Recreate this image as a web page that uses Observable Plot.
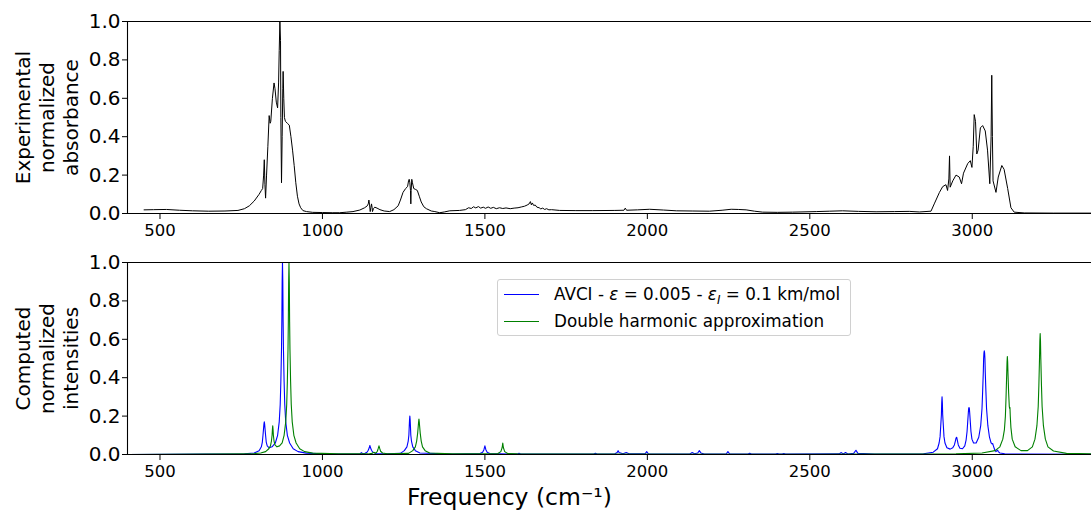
<!DOCTYPE html>
<html>
<head>
<meta charset="utf-8">
<script src="https://cdn.jsdelivr.net/npm/d3@7"></script>
<script src="https://cdn.jsdelivr.net/npm/@observablehq/plot@0.6"></script>
<style>
  html, body { margin: 0; padding: 0; background: #fff; }
  #wrap { position: relative; width: 1091px; height: 512px; overflow: hidden; font-family: "DejaVu Sans", sans-serif; }
  #wrap svg { display: block; }
  #legend { position: absolute; left: 497px; top: 279px; width: 352px; height: 55px;
    border: 1px solid #d0d0d0; border-radius: 3px; background: rgba(255,255,255,0.8);
    font-family: "DejaVu Sans", sans-serif; font-size: 16.8px; color: #000; }
  .row { position: absolute; left: 0; height: 20px; display: flex; align-items: center; white-space: nowrap; }
  .sw { display: inline-block; width: 35px; height: 0; border-top: 1.2px solid; margin-left: 6px; margin-right: 15px; }
  sub { font-size: 70%; vertical-align: -0.3em; line-height: 0; }
</style>
</head>
<body>
<div id="wrap"></div>
<script>
// ---------- data ----------
const xTicks = [500, 1000, 1500, 2000, 2500, 3000];
const yTicks = [0, 0.2, 0.4, 0.6, 0.8, 1.0];
const xDomain = [400, 3367];

const expFreq = [451,480,520,560,600,650,700,740,760,775,790,805,812,816,819,821,823,825,828,832,836,839,841,846,851,854,858,862,865,867,869,871,872,874,876,878,879,881,883,886,892,898,903,908,913,918,923,928,933,940,951,970,1000,1030,1053,1075,1094,1115,1130,1138,1141,1143,1145,1147,1149,1151,1153,1154,1157,1161,1168,1177,1190,1207,1220,1233,1240,1248,1256,1262,1265,1267,1269,1271,1272,1273,1275,1277,1281,1287,1292,1298,1304,1312,1320,1335,1346,1361,1375,1392,1422,1440,1450,1458,1465,1472,1480,1487,1495,1502,1510,1518,1526,1535,1545,1555,1565,1578,1590,1602,1612,1622,1630,1636,1640,1643,1646,1650,1655,1660,1667,1672,1678,1684,1690,1697,1705,1730,1780,1832,1900,1928,1932,1936,1970,2007,2050,2089,2140,2191,2230,2258,2280,2304,2330,2355,2400,2447,2520,2560,2601,2650,2704,2760,2806,2837,2873,2883,2899,2909,2919,2924,2928,2930,2932,2940,2950,2960,2967,2973,2986,2994,2999,3003,3006,3010,3014,3018,3025,3032,3040,3047,3054,3058,3060,3062,3064,3073,3080,3091,3098,3109,3119,3129,3160,3250,3365];
const expAbs = [0.019,0.020,0.021,0.017,0.014,0.012,0.013,0.016,0.025,0.040,0.065,0.100,0.120,0.130,0.200,0.280,0.150,0.080,0.200,0.350,0.510,0.470,0.480,0.600,0.680,0.650,0.580,0.550,0.680,0.850,1.000,0.900,0.500,0.160,0.400,0.650,0.740,0.600,0.500,0.480,0.470,0.460,0.400,0.330,0.250,0.160,0.090,0.050,0.030,0.015,0.010,0.006,0.005,0.004,0.004,0.007,0.010,0.018,0.030,0.040,0.050,0.070,0.045,0.010,0.030,0.050,0.030,0.010,0.025,0.033,0.028,0.020,0.013,0.010,0.020,0.040,0.070,0.110,0.130,0.140,0.170,0.178,0.160,0.120,0.050,0.120,0.178,0.160,0.130,0.125,0.120,0.090,0.060,0.035,0.025,0.013,0.010,0.004,0.008,0.014,0.016,0.020,0.030,0.026,0.035,0.029,0.036,0.028,0.033,0.027,0.034,0.027,0.032,0.025,0.030,0.026,0.029,0.025,0.028,0.030,0.034,0.038,0.044,0.050,0.062,0.045,0.055,0.042,0.044,0.033,0.030,0.024,0.028,0.021,0.025,0.019,0.020,0.016,0.015,0.015,0.016,0.017,0.028,0.017,0.019,0.022,0.018,0.014,0.013,0.012,0.017,0.022,0.021,0.019,0.012,0.007,0.006,0.007,0.010,0.012,0.014,0.011,0.009,0.010,0.011,0.008,0.012,0.050,0.110,0.140,0.150,0.120,0.180,0.300,0.137,0.170,0.200,0.190,0.155,0.210,0.260,0.275,0.240,0.350,0.515,0.480,0.310,0.330,0.446,0.458,0.430,0.330,0.155,0.400,0.720,0.400,0.170,0.110,0.190,0.250,0.230,0.130,0.030,0.007,0.003,0.002,0.002];

const avciFreq = [400,760,790,805,812,815,817,819,820,821,822,823,825,827,830,836,845,855,862,867,870,872,874,875,876,877,878,879,880,882,884,887,892,899,910,925,950,1000,1100,1116,1120,1124,1131,1137,1141,1144,1146,1148,1151,1155,1165,1200,1240,1252,1260,1264,1266,1267,1268,1269,1270,1271,1272,1274,1278,1286,1300,1400,1485,1493,1497,1499,1500,1501,1503,1507,1515,1600,1605,1610,1835,1840,1845,1900,1907,1910,1913,1925,1935,1945,1993,1998,2003,2130,2138,2145,2155,2160,2165,2175,2243,2248,2253,2310,2315,2320,2395,2400,2405,2415,2420,2425,2590,2597,2603,2610,2617,2635,2642,2648,2700,2850,2880,2893,2898,2901,2903,2905,2906,2907,2908,2909,2911,2913,2916,2922,2932,2940,2945,2948,2950,2952,2954,2957,2962,2970,2977,2981,2984,2986,2988,2989,2990,2991,2992,2994,2996,2999,3004,3012,3020,3026,3030,3032,3034,3035,3036,3037,3038,3039,3040,3042,3044,3048,3053,3058,3061,3063,3065,3069,3073,3076,3078,3080,3085,3100,3150,3365];
const avciInt = [0,0.004,0.008,0.020,0.040,0.065,0.100,0.140,0.160,0.170,0.160,0.140,0.100,0.065,0.045,0.035,0.040,0.060,0.100,0.170,0.260,0.380,0.550,0.690,0.900,1.000,0.900,0.690,0.550,0.380,0.260,0.170,0.100,0.060,0.030,0.015,0.007,0.003,0.002,0.004,0.010,0.004,0.006,0.012,0.022,0.035,0.047,0.035,0.022,0.012,0.005,0.003,0.006,0.020,0.040,0.070,0.100,0.140,0.180,0.200,0.180,0.140,0.100,0.070,0.040,0.020,0.008,0.002,0.005,0.012,0.025,0.038,0.045,0.038,0.025,0.012,0.005,0.002,0.006,0.002,0.002,0.006,0.002,0.004,0.010,0.020,0.010,0.004,0.010,0.003,0.004,0.015,0.004,0.002,0.010,0.004,0.008,0.020,0.008,0.002,0.004,0.015,0.004,0.002,0.006,0.002,0.002,0.005,0.002,0.002,0.005,0.002,0.003,0.010,0.003,0.010,0.003,0.006,0.022,0.006,0.002,0.004,0.012,0.030,0.060,0.093,0.150,0.207,0.270,0.300,0.270,0.207,0.150,0.093,0.060,0.035,0.028,0.035,0.050,0.070,0.085,0.090,0.075,0.050,0.033,0.030,0.045,0.075,0.120,0.170,0.220,0.240,0.245,0.240,0.220,0.170,0.120,0.080,0.060,0.060,0.090,0.150,0.240,0.330,0.430,0.500,0.530,0.540,0.530,0.500,0.430,0.330,0.240,0.150,0.090,0.060,0.055,0.057,0.045,0.025,0.015,0.020,0.023,0.015,0.008,0.004,0.002,0.001];

const dhFreq = [400,780,810,825,835,840,843,845,846,847,848,849,851,854,860,868,876,882,887,890,892,894,895,896,897,898,899,900,902,904,907,912,919,930,945,970,1050,1140,1153,1158,1163,1166,1169,1172,1174,1176,1179,1185,1200,1265,1278,1286,1290,1293,1295,1296,1297,1298,1299,1301,1304,1308,1316,1330,1400,1540,1549,1553,1555,1557,1561,1570,1600,1700,2500,2950,3030,3070,3085,3094,3099,3102,3104,3106,3107,3108,3109,3110,3112,3114,3115,3116,3117,3119,3123,3132,3150,3170,3185,3193,3199,3203,3205,3207,3208,3209,3210,3211,3213,3215,3219,3225,3233,3250,3290,3365];
const dhInt = [0,0.003,0.008,0.015,0.030,0.045,0.070,0.100,0.130,0.150,0.130,0.100,0.070,0.050,0.040,0.045,0.060,0.100,0.170,0.260,0.380,0.550,0.690,0.900,1.000,0.900,0.690,0.550,0.380,0.260,0.170,0.100,0.060,0.030,0.015,0.007,0.003,0.003,0.006,0.012,0.007,0.010,0.017,0.033,0.045,0.033,0.017,0.008,0.004,0.006,0.020,0.040,0.070,0.110,0.150,0.170,0.185,0.170,0.150,0.110,0.070,0.040,0.020,0.008,0.003,0.005,0.015,0.035,0.060,0.035,0.015,0.005,0.003,0.002,0.001,0.003,0.008,0.020,0.040,0.080,0.130,0.200,0.300,0.420,0.480,0.510,0.480,0.420,0.320,0.250,0.240,0.245,0.200,0.140,0.080,0.040,0.020,0.020,0.040,0.080,0.150,0.250,0.360,0.500,0.590,0.630,0.590,0.500,0.360,0.250,0.150,0.080,0.040,0.018,0.006,0.003];

const expData = expFreq.map((f, i) => ({f, v: expAbs[i]}));
const avciData = avciFreq.map((f, i) => ({f, v: avciInt[i]}));
const dhData = dhFreq.map((f, i) => ({f, v: dhInt[i]}));

// ---------- common ----------
const FONT = "DejaVu Sans, sans-serif";
function baseOpts(height, marginTop, marginBottom) {
  return {
    width: 1091, height, marginTop, marginBottom, marginLeft: 127, marginRight: 0,
    style: {fontFamily: FONT, fontSize: "16.5px", color: "#000", background: "transparent", overflow: "visible"},
    x: {domain: xDomain},
    y: {domain: [0, 1]}
  };
}
function axes() {
  return [
    Plot.axisX({ticks: xTicks, tickSize: 6, tickPadding: 5, tickFormat: d3.format("d"), label: null, fontSize: 16.5, stroke: "#000"}),
    Plot.axisY({ticks: yTicks, tickSize: 5, tickPadding: 2, tickFormat: d3.format(".1f"), label: null, fontSize: 20, stroke: "#000"}),
    Plot.ruleY([0, 1], {stroke: "#000", strokeWidth: 1.1}),
    Plot.ruleX([xDomain[0]], {stroke: "#000", strokeWidth: 1.1})
  ];
}
function yLabel(txt) {
  return Plot.text([txt], {text: d => d, frameAnchor: "left", dx: -81, rotate: -90, textAnchor: "middle",
    lineAnchor: "middle", lineHeight: 1.2, fontSize: 20, fill: "#000"});
}

const topPlot = Plot.plot({
  ...baseOpts(241, 21, 28),
  marks: [
    Plot.line(expData, {x: "f", y: "v", stroke: "#000", strokeWidth: 1, clip: true}),
    ...axes(),
    yLabel("Experimental\nnormalized\nabsorbance")
  ]
});

const bottomPlot = Plot.plot({
  ...baseOpts(271, 21, 58),
  marks: [
    Plot.line(avciData, {x: "f", y: "v", stroke: "#0000ff", strokeWidth: 1.1, clip: true}),
    Plot.line(dhData, {x: "f", y: "v", stroke: "#008000", strokeWidth: 1.1, clip: true}),
    ...axes(),
    yLabel("Computed\nnormalized\nintensities"),
    Plot.text(["Frequency (cm⁻¹)"], {text: d => d, frameAnchor: "bottom", dx: -100, dy: 43, fontSize: 23.5, fill: "#000", lineAnchor: "middle"})
  ]
});

const wrap = document.getElementById("wrap");
wrap.appendChild(topPlot);
wrap.appendChild(bottomPlot);

const legend = document.createElement("div");
legend.id = "legend";
legend.innerHTML =
  '<div class="row" style="top:4px"><span class="sw" style="border-color:#0000ff"></span><span>AVCI - <i>ε</i> = 0.005 - <i>ε</i><sub><i>I</i></sub> = 0.1 km/mol</span></div>' +
  '<div class="row" style="top:31px"><span class="sw" style="border-color:#008000"></span><span>Double harmonic approximation</span></div>';
wrap.appendChild(legend);
</script>
</body>
</html>
